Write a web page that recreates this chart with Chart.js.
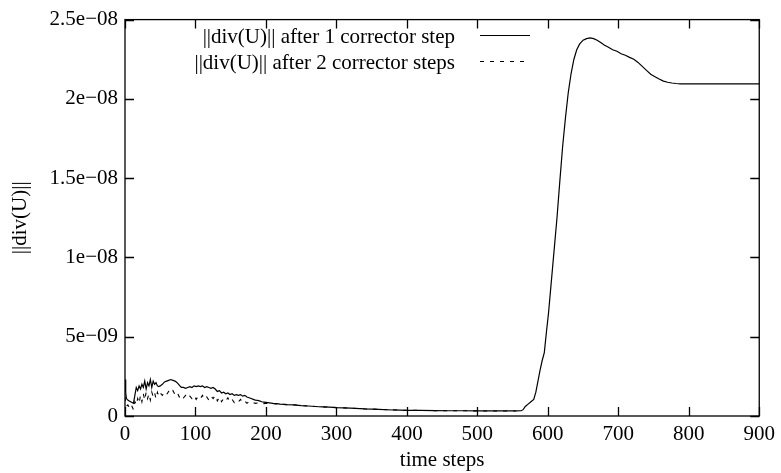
<!DOCTYPE html>
<html>
<head>
<meta charset="utf-8">
<script src="https://cdn.jsdelivr.net/npm/chart.js@4/dist/chart.umd.min.js"></script>
<style>
  html, body { margin: 0; padding: 0; background: #fff; }
  #wrap { width: 781px; height: 473px; }
</style>
</head>
<body>
<div id="wrap"><canvas id="c" width="781" height="473"></canvas></div>
<script>
// ---- data (values in units of 1e-9) ----
const seriesNames = ["||div(U)|| after 1 corrector step", "||div(U)|| after 2 corrector steps"];
const xTickLabels = ["0","100","200","300","400","500","600","700","800","900"];
const yTickLabels = ["0","5e\u221209","1e\u221208","1.5e\u221208","2e\u221208","2.5e\u221208"];

const steps1 = [0,1,2,4,6,8,10,12,14,16,18,20,22,24,26,28,30,32,34,36,38,40,42,44,46,48,50,53,56,59,62,65,68,71,74,77,80,83,86,89,92,95,98,101,104,107,110,113,116,119,122,125,128,131,134,137,140,143,146,149,152,155,158,161,164,167,170,173,176,179,182,185,188,191,194,197,200,205,210,215,220,230,240,250,260,270,280,290,300,320,340,360,380,400,420,440,460,480,500,520,540,555,562,565,568,572,576,580,583,586,589,592,595,598,601,604,607,610,613,617,621,625,629,633,637,641,645,650,655,660,665,670,675,680,686,692,698,704,710,716,722,728,734,740,746,752,758,764,770,776,782,788,795,800,850,900];
const values1 = [2.3,1.5,1.1,1.0,0.95,0.9,0.85,0.8,1.3,1.8,1.6,1.9,1.7,2.0,1.8,2.2,1.7,2.1,1.9,2.3,1.8,2.2,2.0,2.1,1.9,1.85,1.9,2.0,2.15,2.2,2.25,2.3,2.25,2.2,2.1,1.95,1.8,1.8,1.75,1.8,1.85,1.8,1.9,1.85,1.9,1.85,1.9,1.8,1.85,1.8,1.75,1.8,1.7,1.55,1.6,1.45,1.5,1.4,1.45,1.35,1.4,1.3,1.35,1.3,1.35,1.25,1.3,1.2,1.15,1.1,1.05,1.0,0.98,0.95,0.9,0.88,0.86,0.83,0.8,0.78,0.75,0.72,0.7,0.66,0.63,0.6,0.58,0.56,0.53,0.5,0.45,0.42,0.38,0.36,0.35,0.34,0.33,0.33,0.32,0.32,0.32,0.32,0.33,0.4,0.6,0.75,0.9,1.05,1.5,2.2,2.9,3.5,4.0,5.3,6.5,8.0,9.5,11.0,12.5,14.8,17.0,18.8,20.4,21.6,22.5,23.1,23.45,23.7,23.8,23.85,23.8,23.7,23.55,23.4,23.25,23.1,23.0,22.85,22.75,22.62,22.5,22.3,22.05,21.8,21.55,21.4,21.25,21.12,21.05,21.0,20.97,20.95,20.95,20.95,20.95,20.95];

const steps2 = [0,1,2,4,6,8,10,12,14,16,18,20,22,24,26,28,30,32,34,36,38,40,42,44,46,48,50,53,56,59,62,65,68,71,74,77,80,83,86,89,92,95,98,101,104,107,110,113,116,119,122,125,128,131,134,137,140,143,146,149,152,155,158,161,164,167,170,173,176,179,182,185,188,191,194,197,200,205,210,215,220,230,240,250,260,270,280,290,300,320,340,360,380,400,420,440,460,480,500,520,540,555];
const values2 = [1.2,0.8,0.6,0.7,0.55,0.75,0.6,0.4,0.9,0.7,1.1,0.8,1.3,0.9,1.4,1.0,1.5,1.1,1.4,1.0,1.5,1.2,1.45,1.1,1.5,1.25,1.45,1.3,1.5,1.35,1.55,1.4,1.6,1.35,1.5,1.2,1.35,1.15,1.3,1.1,1.25,1.1,1.3,1.05,1.25,1.1,1.3,1.05,1.2,1.0,1.25,1.1,1.3,0.95,1.2,0.9,1.1,0.95,1.15,0.9,1.05,0.85,1.0,0.9,1.05,0.85,0.95,0.8,0.9,0.82,0.85,0.8,0.82,0.78,0.8,0.78,0.8,0.78,0.77,0.76,0.75,0.72,0.7,0.66,0.63,0.6,0.58,0.56,0.53,0.5,0.45,0.42,0.38,0.36,0.35,0.34,0.33,0.33,0.32,0.32,0.32,0.32];

const FONT = '"Liberation Serif", "Times New Roman", serif';
const FS = 21;
const DASH = [4, 6];

const pts = (xs, ys) => xs.map((x, i) => ({x: x, y: ys[i]}));

const framePlugin = {
  id: 'frame',
  afterDraw(chart) {
    const ctx = chart.ctx;
    const a = chart.chartArea;
    const xs = chart.scales.x, ys = chart.scales.y;
    const TL = 9;
    ctx.save();
    ctx.strokeStyle = '#000';
    ctx.lineWidth = 1.3;
    ctx.strokeRect(a.left, a.top, a.right - a.left, a.bottom - a.top);
    ctx.beginPath();
    xs.ticks.forEach(t => {
      const px = Math.round(xs.getPixelForValue(t.value)) + 0.5;
      ctx.moveTo(px, a.bottom); ctx.lineTo(px, a.bottom - TL);
      ctx.moveTo(px, a.top); ctx.lineTo(px, a.top + TL);
    });
    ys.ticks.forEach(t => {
      const py = Math.round(ys.getPixelForValue(t.value)) + 0.5;
      ctx.moveTo(a.left, py); ctx.lineTo(a.left + TL, py);
      ctx.moveTo(a.right, py); ctx.lineTo(a.right - TL, py);
    });
    ctx.stroke();
    // legend
    ctx.font = FS + 'px ' + FONT;
    ctx.fillStyle = '#000';
    ctx.textAlign = 'right';
    ctx.textBaseline = 'middle';
    const rows = [{y: 37, dash: []}, {y: 63, dash: DASH}];
    rows.forEach((r, i) => {
      ctx.fillText(seriesNames[i], 455, r.y);
      ctx.beginPath();
      ctx.setLineDash(r.dash);
      ctx.lineWidth = 1.2;
      ctx.moveTo(480, r.y - 1.5); ctx.lineTo(530, r.y - 1.5);
      ctx.stroke();
    });
    ctx.setLineDash([]);
    ctx.restore();
  }
};

new Chart(document.getElementById('c'), {
  type: 'line',
  data: {
    datasets: [
      { label: seriesNames[1], data: pts(steps2, values2), borderColor: '#000', borderWidth: 1.1, borderDash: DASH, pointRadius: 0, tension: 0, fill: false },
      { label: seriesNames[0], data: pts(steps1, values1), borderColor: '#000', borderWidth: 1.2, pointRadius: 0, tension: 0, fill: false }
    ]
  },
  options: {
    responsive: false,
    animation: false,
    events: [],
    layout: { padding: { top: 14, right: 18, left: 0, bottom: 0 } },
    plugins: { legend: { display: false }, tooltip: { enabled: false } },
    scales: {
      x: {
        type: 'linear', min: 0, max: 900,
        grid: { display: false, drawTicks: false },
        border: { display: false },
        ticks: { stepSize: 100, padding: 6, color: '#000', font: { family: FONT, size: FS }, maxRotation: 0,
          callback: (v) => xTickLabels[Math.round(v / 100)] },
        title: { display: true, text: 'time steps', color: '#000', font: { family: FONT, size: FS }, padding: { top: 0, bottom: 0 } },
        afterFit: (s) => { s.height = 57; }
      },
      y: {
        type: 'linear', min: 0, max: 25,
        grid: { display: false, drawTicks: false },
        border: { display: false },
        ticks: { stepSize: 5, padding: 7, color: '#000', font: { family: FONT, size: FS },
          callback: (v) => yTickLabels[Math.round(v / 5)] },
        title: { display: true, text: '||div(U)||', color: '#000', font: { family: FONT, size: FS }, padding: { top: 8, bottom: 0 } },
        afterFit: (s) => { s.width = 125; }
      }
    }
  },
  plugins: [framePlugin]
});
</script>
</body>
</html>
